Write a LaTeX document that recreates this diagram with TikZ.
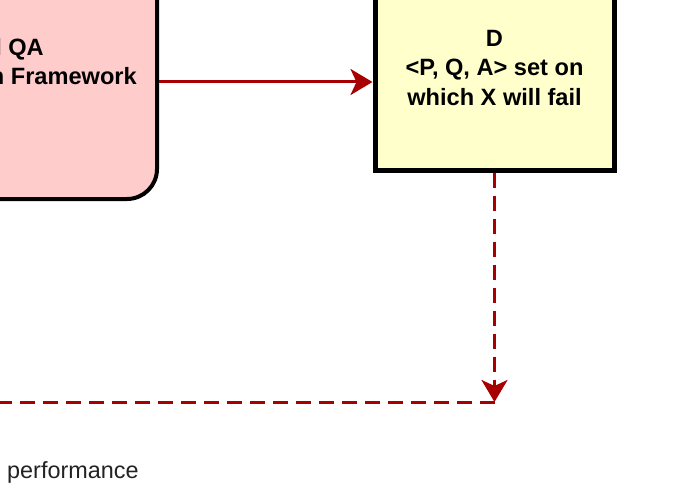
\documentclass[tikz,border=0pt]{standalone}
\usepackage{fontspec}
\setmainfont{Liberation Sans}
\usetikzlibrary{arrows.meta}
\definecolor{qapink}{HTML}{FFCCCC}
\definecolor{setyellow}{HTML}{FFFFCC}
\definecolor{linkred}{HTML}{A80000}
\definecolor{notegray}{HTML}{222222}
\tikzset{
  box/.style={draw=black, minimum width=#1, inner sep=0pt, font=\bfseries\fontsize{23.6}{29.5}\selectfont, align=center},
  link/.style={draw=linkred, line width=3pt, -{Stealth[length=22pt,width=26pt,inset=6pt]}},
  dashlink/.style={link, dash pattern=on 15pt off 8pt}
}
\begin{document}
\begin{tikzpicture}[x=1pt,y=-1pt]
        \useasboundingbox (0,0) rectangle (680,500);
        \clip (0,0) rectangle (680,500);
        \node[box=307pt, fill=qapink, line width=4pt, minimum height=234pt, rounded corners=30pt] (qa) at (3.5,82) {};
        \node[anchor=base east, inner sep=0pt, font=\bfseries\fontsize{23.6}{29}\selectfont] (qa1) at (44,56) {l QA};
        \node[anchor=base east, inner sep=0pt, font=\bfseries\fontsize{23.6}{29}\selectfont] (qa2) at (137,85) {n Framework};
        \node[box=239pt, fill=setyellow, line width=5pt, minimum height=205pt] (d) at (494.5,67.5) {D\\<P, Q, A> set on\\which X will fail};
        \coordinate (turn) at (494.5,402);
        \coordinate (back) at (-5,402);
        \draw[link] (qa.east) -- (qa.east -| d.west);
        \draw[dashlink] (d.south) -- (turn);
        \draw[dashlink, -] (turn) -- (back);
        \node[anchor=base west, inner sep=0pt, text=notegray, font=\fontsize{23.4}{29}\selectfont] (perf) at (7,478) {performance};
    \end{tikzpicture}
\end{document}
